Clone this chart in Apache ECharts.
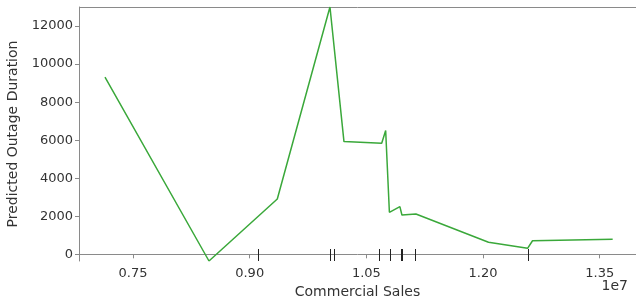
<!DOCTYPE html>
<html>
<head>
<meta charset="utf-8">
<script src="https://cdn.jsdelivr.net/npm/echarts@6/dist/echarts.min.js"></script>
<style>
  html, body { margin: 0; padding: 0; background: #fff; }
  #chart { width: 636px; height: 297px; }
</style>
</head>
<body>
<div id="chart"></div>
<script>
// x values in units of 1e7
const salesX = [0.714, 0.8477, 0.9355, 1.0032, 1.0212, 1.0697, 1.0748, 1.0796, 1.0931, 1.0957, 1.1137, 1.2070, 1.2572, 1.2636, 1.3666]
const durationY = [9316, -350, 2911, 13000, 5926, 5842, 6505, 2210, 2505, 2068, 2121, 632, 316, 716, 789]
const rugX = [0.9111, 1.0032, 1.0087, 1.0658, 1.0803, 1.0941, 1.0954, 1.1125, 1.2581]
const xTicks = [0.75, 0.90, 1.05, 1.20, 1.35]
const yTicks = [0, 2000, 4000, 6000, 8000, 10000, 12000]

const font = 'DejaVu Sans'
const textColor = '#333'
const spineColor = '#8a8a8a'

const chart = echarts.init(document.getElementById('chart'))

const option = {
  animation: false,
  grid: { left: 79, top: 7, right: 0, bottom: 36, containLabel: false, outerBoundsMode: 'none' },
  xAxis: {
    type: 'value',
    min: 0.6806,
    max: 1.3966,
    name: 'Commercial Sales',
    nameLocation: 'middle',
    nameGap: 18,
    nameTextStyle: { fontFamily: font, fontSize: 14, color: textColor },
    axisLine: { lineStyle: { color: spineColor, width: 1 } },
    axisTick: { show: true, length: 4, customValues: xTicks, lineStyle: { color: spineColor } },
    axisLabel: {
      customValues: xTicks,
      fontFamily: font, fontSize: 13, color: textColor, margin: 6,
      formatter: (v) => v.toFixed(2)
    },
    splitLine: { show: false }
  },
  yAxis: {
    type: 'value',
    min: -350,
    max: 13000,
    name: 'Predicted Outage Duration',
    nameLocation: 'middle',
    nameGap: 47,
    nameTextStyle: { fontFamily: font, fontSize: 14, color: textColor },
    axisLine: { show: true, lineStyle: { color: spineColor, width: 1 } },
    axisTick: { show: true, length: 4, customValues: yTicks, lineStyle: { color: spineColor } },
    axisLabel: {
      customValues: yTicks, fontFamily: font, fontSize: 13, color: textColor, margin: 6,
      formatter: (v) => String(v)
    },
    splitLine: { show: false }
  },
  graphic: [
    {
      type: 'line',
      shape: { x1: 79, y1: 7.5, x2: 636, y2: 7.5 },
      style: { stroke: spineColor, lineWidth: 1 }
    },
    {
      type: 'text',
      right: 8,
      top: 279,
      style: { text: '1e7', font: '14px "DejaVu Sans"', fill: textColor }
    }
  ],
  series: [
    {
      type: 'line',
      data: salesX.map((x, i) => [x, durationY[i]]),
      symbol: 'none',
      lineStyle: { color: '#3aa83a', width: 1.5 },
      z: 3
    },
    {
      type: 'custom',
      data: rugX.map((x) => [x]),
      renderItem: (params, api) => {
        const p = api.coord([api.value(0), -350])
        return {
          type: 'line',
          shape: { x1: Math.round(p[0]) + 0.5, y1: p[1], x2: Math.round(p[0]) + 0.5, y2: p[1] - 12 },
          style: { stroke: '#222', lineWidth: 1 }
        }
      },
      z: 2
    }
  ]
}

chart.setOption(option)
</script>
</body>
</html>
